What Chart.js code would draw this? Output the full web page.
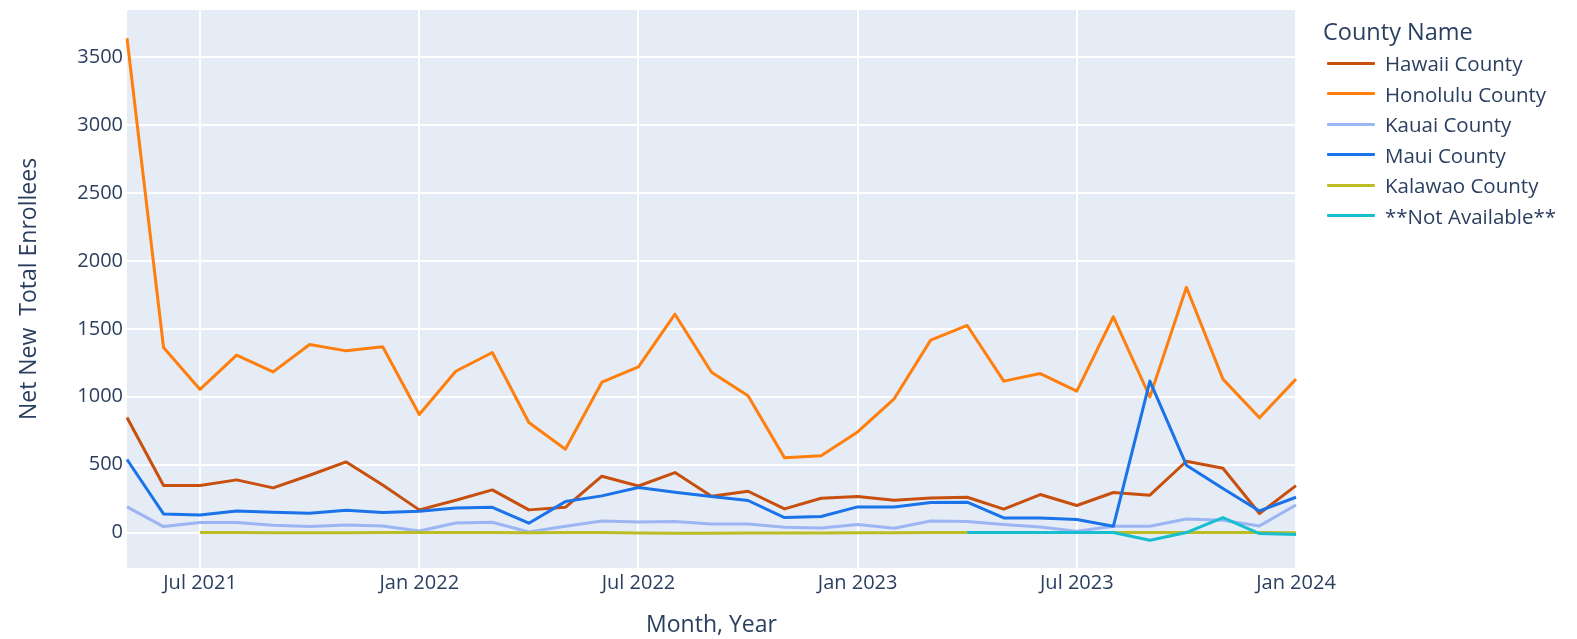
<!DOCTYPE html>
<html>
<head>
<meta charset="utf-8">
<script src="https://cdn.jsdelivr.net/npm/chart.js@4"></script>
<style>
    html, body { margin: 0; padding: 0; background: #fff; }
    #wrap { position: relative; width: 1577px; height: 639px; }
    #legend {
        position: absolute; left: 1316px; top: 14px;
        font-family: "Open Sans", sans-serif; color: #2a3f5f;
    }
    #legend .title { font-size: 23.5px; line-height: 34px; margin-left: 7px; }
    #legend .item { height: 30.5px; display: flex; align-items: center; font-size: 20.5px; }
    #legend .swatch { width: 48px; height: 3px; margin: 0 10px 0 11px; border-radius: 1px; }
</style>
</head>
<body>
<div id="wrap">
    <canvas id="enrollChart" width="1577" height="639"></canvas>
    <div id="legend"><div class="title">County Name</div></div>
</div>
<script>
// Months from May 2021 to Jan 2024
const months = [
    'May 2021', 'Jun 2021', 'Jul 2021', 'Aug 2021', 'Sep 2021', 'Oct 2021', 'Nov 2021', 'Dec 2021',
    'Jan 2022', 'Feb 2022', 'Mar 2022', 'Apr 2022', 'May 2022', 'Jun 2022', 'Jul 2022', 'Aug 2022',
    'Sep 2022', 'Oct 2022', 'Nov 2022', 'Dec 2022', 'Jan 2023', 'Feb 2023', 'Mar 2023', 'Apr 2023',
    'May 2023', 'Jun 2023', 'Jul 2023', 'Aug 2023', 'Sep 2023', 'Oct 2023', 'Nov 2023', 'Dec 2023',
    'Jan 2024'
];
const shownTicks = ['Jul 2021', 'Jan 2022', 'Jul 2022', 'Jan 2023', 'Jul 2023', 'Jan 2024'];
const yTicks = [0, 500, 1000, 1500, 2000, 2500, 3000, 3500];

const countyNames = ['Hawaii County', 'Honolulu County', 'Kauai County', 'Maui County', 'Kalawao County', '**Not Available**'];
const countyColors = ['#c8500f', '#ff7f0e', '#9cb6f4', '#1a73e8', '#bcbd22', '#17becf'];

const hawaii = [847, 346, 346, 388, 329, 422, 520, 350, 167, 238, 314, 167, 186, 415, 343, 442,
    267, 304, 174, 253, 265, 238, 255, 260, 172, 280, 199, 295, 275, 525, 474, 140, 346];
const honolulu = [3640, 1363, 1054, 1306, 1183, 1385, 1338, 1368, 869, 1188, 1326, 810, 614, 1107, 1220, 1608,
    1181, 1007, 550, 565, 741, 985, 1417, 1525, 1115, 1171, 1041, 1589, 999, 1806, 1130, 845, 1130];
const kauai = [189, 44, 74, 74, 54, 44, 56, 49, 12, 71, 76, 4, 46, 85, 78, 81,
    63, 63, 39, 34, 59, 32, 85, 81, 59, 41, 10, 46, 46, 100, 91, 49, 203];
const maui = [538, 137, 130, 159, 150, 142, 164, 147, 157, 181, 186, 69, 228, 270, 332, 297,
    265, 236, 110, 118, 189, 189, 221, 224, 108, 108, 96, 46, 1115, 496, 324, 159, 260];
const kalawao = [null, null, 0, 0, -1, -1, -2, 0, 0, 0, 0, -1, 0, 0, -3, -5,
    -5, -4, -3, -3, -2, -1, 0, 0, 0, 0, 0, 0, 0, 0, 0, 0, -2];
const notAvailable = [null, null, null, null, null, null, null, null, null, null, null, null, null, null, null, null,
    null, null, null, null, null, null, null, 0, 0, 0, 0, 0, -57, 0, 110, -7, -15];

const seriesValues = [hawaii, honolulu, kauai, maui, kalawao, notAvailable];

const tickFont = { family: 'Open Sans', size: 20 };
const titleFont = { family: 'Open Sans', size: 23 };
const textColor = '#2a3f5f';

// Plot background like plotly's
const plotBackground = {
    id: 'plotBackground',
    beforeDraw(chart) {
        const { ctx, chartArea: a } = chart;
        ctx.save();
        ctx.fillStyle = '#e5ecf6';
        ctx.fillRect(a.left, a.top, a.right - a.left, a.bottom - a.top);
        ctx.restore();
    }
};

function zeroPadding(scale) {
    scale.paddingTop = 0;
    scale.paddingBottom = 0;
    scale.paddingLeft = 0;
    scale.paddingRight = 0;
}

new Chart(document.getElementById('enrollChart'), {
    type: 'line',
    data: {
        labels: months,
        datasets: countyNames.map((name, i) => ({
            label: name,
            data: seriesValues[i],
            borderColor: countyColors[i],
            backgroundColor: countyColors[i],
            borderWidth: 3,
            pointRadius: 0,
            tension: 0,
            fill: false,
            spanGaps: false,
            borderJoinStyle: 'round',
            order: -i  // later traces on top, like plotly
        }))
    },
    options: {
        responsive: false,
        animation: false,
        layout: { padding: { left: 0, top: 10, right: 281, bottom: 0 } },
        plugins: {
            legend: { display: false },
            tooltip: { enabled: false }
        },
        scales: {
            x: {
                type: 'category',
                offset: false,
                border: { display: false },
                grid: {
                    drawTicks: false,
                    lineWidth: 2,
                    color: ctx => (ctx.tick && shownTicks.includes(months[ctx.tick.value])) ? '#ffffff' : 'rgba(0,0,0,0)'
                },
                ticks: {
                    autoSkip: false,
                    maxRotation: 0,
                    padding: 3,
                    color: textColor,
                    font: tickFont,
                    callback: function(value) {
                        const lab = months[value];
                        return shownTicks.includes(lab) ? lab : '';
                    }
                },
                title: {
                    display: true,
                    text: 'Month, Year',
                    color: textColor,
                    font: titleFont,
                    padding: { top: 0, bottom: 0 }
                },
                afterFit(scale) { scale.height = 71; zeroPadding(scale); }
            },
            y: {
                min: -261,
                max: 3848,
                border: { display: false },
                grid: { drawTicks: false, lineWidth: 2, color: '#ffffff' },
                afterBuildTicks(scale) { scale.ticks = yTicks.map(v => ({ value: v })); },
                ticks: {
                    padding: 4,
                    color: textColor,
                    font: tickFont,
                    callback: value => String(value)
                },
                title: {
                    display: true,
                    text: 'Net New  Total Enrollees',
                    color: textColor,
                    font: titleFont,
                    padding: { top: 16, bottom: 0 }
                },
                afterFit(scale) { scale.width = 127; zeroPadding(scale); }
            }
        }
    },
    plugins: [plotBackground]
});

// HTML legend built from the series names and colours
const legendEl = document.getElementById('legend');
countyNames.forEach((name, i) => {
    const row = document.createElement('div');
    row.className = 'item';
    const sw = document.createElement('span');
    sw.className = 'swatch';
    sw.style.background = countyColors[i];
    const txt = document.createElement('span');
    txt.textContent = name;
    row.appendChild(sw);
    row.appendChild(txt);
    legendEl.appendChild(row);
});
</script>
</body>
</html>
